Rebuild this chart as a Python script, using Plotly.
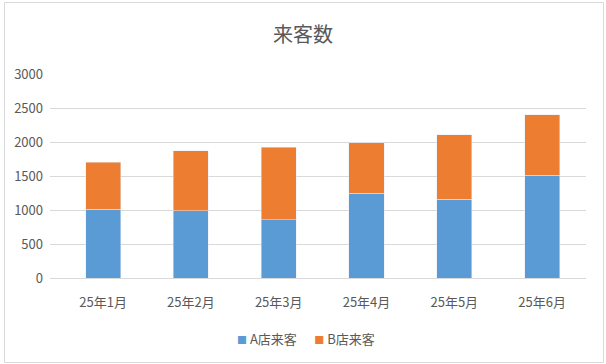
import plotly.graph_objects as go

categories = ["25年1月", "25年2月", "25年3月", "25年4月", "25年5月", "25年6月"]
store_a = [1010, 990, 860, 1250, 1160, 1510]
store_b = [690, 880, 1060, 740, 950, 890]
y_ticks = [0, 500, 1000, 1500, 2000, 2500, 3000]
series_names = ["A店来客", "B店来客"]
series_colors = ["#5B9BD5", "#ED7D31"]

W, H = 606, 364
L, R, T, B = 50, 20, 74, 86
pw, ph = W - L - R, H - T - B

def px_to_paper_x(px):
    return (px - L) / pw

def px_to_paper_y(py):
    return (H - B - py) / ph

font_family = "Noto Sans CJK JP, Noto Sans, sans-serif"
gray = "#595959"

fig = go.Figure()
for name, vals, col in zip(series_names, [store_a, store_b], series_colors):
    fig.add_trace(go.Bar(name=name, x=categories, y=vals, marker_color=col, showlegend=False))

legend_text = "&nbsp;&nbsp;&nbsp;&nbsp;&nbsp;&nbsp;".join(
    f"<span style='color:{c};font-size:10px'>■</span>&nbsp;{n}" for n, c in zip(series_names, series_colors)
)

fig.update_layout(
    barmode="stack",
    bargap=0.6,
    width=W, height=H,
    margin=dict(l=L, r=R, t=T, b=B),
    paper_bgcolor="white",
    plot_bgcolor="white",
    font=dict(family=font_family, color=gray, size=13),
    title=dict(text="来客数", x=0.5, xanchor="center", y=1 - 35 / H, yanchor="middle",
               font=dict(size=20, color=gray, family=font_family)),
    xaxis=dict(range=[-0.605, 5.5], showgrid=False, showline=True, linecolor="#d9d9d9", linewidth=1,
               ticks="", ticklabelstandoff=12, tickfont=dict(size=13, color=gray)),
    yaxis=dict(range=[0, 3000], tickvals=y_ticks, showgrid=True, gridcolor="#d9d9d9",
               gridwidth=1, zeroline=False, showline=False, ticks="",
               ticklabelstandoff=6, tickfont=dict(size=13, color=gray)),
    annotations=[dict(text=legend_text, xref="paper", yref="paper",
                      x=px_to_paper_x(306), y=px_to_paper_y(338), xanchor="center", yanchor="middle",
                      showarrow=False, font=dict(size=13, color=gray, family=font_family))],
    shapes=[dict(type="rect", xref="paper", yref="paper",
                 x0=px_to_paper_x(4.5), x1=px_to_paper_x(603.5),
                 y0=px_to_paper_y(362.5), y1=px_to_paper_y(2.5),
                 line=dict(color="#d9d9d9", width=1), layer="below")],
)

fig.write_html("out.html")
